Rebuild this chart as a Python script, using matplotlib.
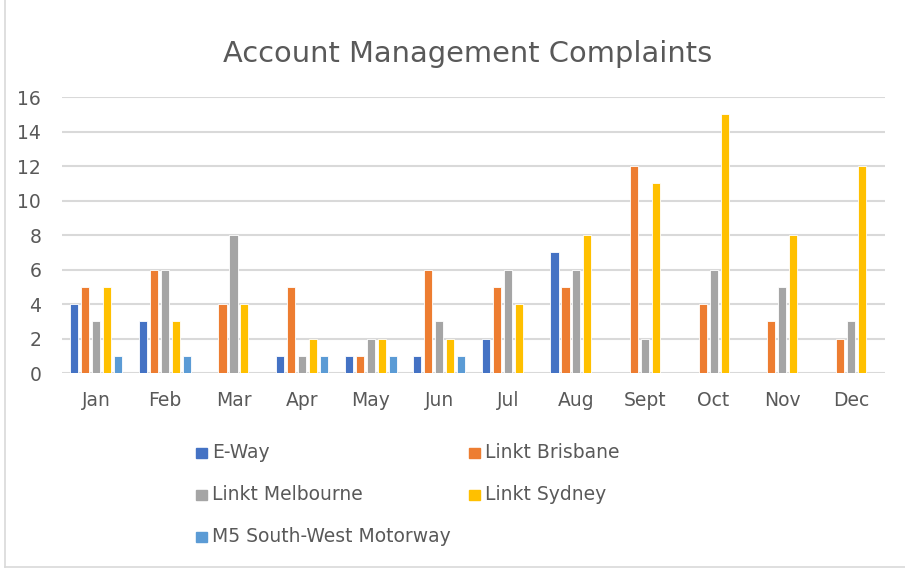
import matplotlib
matplotlib.use("Agg")
import matplotlib.pyplot as plt
from matplotlib.patches import Rectangle
from matplotlib.lines import Line2D
import numpy as np

# chart data
months = ["Jan", "Feb", "Mar", "Apr", "May", "Jun", "Jul", "Aug", "Sept", "Oct", "Nov", "Dec"]
series_names = ["E-Way", "Linkt Brisbane", "Linkt Melbourne", "Linkt Sydney", "M5 South-West Motorway"]
e_way = [4, 3, 0, 1, 1, 1, 2, 7, 0, 0, 0, 0]
linkt_brisbane = [5, 6, 4, 5, 1, 6, 5, 5, 12, 4, 3, 2]
linkt_melbourne = [3, 6, 8, 1, 2, 3, 6, 6, 2, 6, 5, 3]
linkt_sydney = [5, 3, 4, 2, 2, 2, 4, 8, 11, 15, 8, 12]
m5_south_west = [1, 1, 0, 1, 1, 1, 0, 0, 0, 0, 0, 0]
colors = ["#4472C4", "#ED7D31", "#A5A5A5", "#FFC000", "#5B9BD5"]

all_series = [e_way, linkt_brisbane, linkt_melbourne, linkt_sydney, m5_south_west]

fig = plt.figure(figsize=(9.05, 5.7), dpi=100)
ax = fig.add_axes([0.0685, 0.3456, 0.9095, 0.4842])

x = np.arange(len(months))
step = 0.16
width = 0.118
for i, (vals, col) in enumerate(zip(all_series, colors)):
    ax.bar(x + (i - 2) * step, vals, width=width, color=col,
           edgecolor="white", linewidth=0.6, zorder=3)

ax.set_xlim(-0.5, len(months) - 0.5)
ax.set_ylim(0, 16)
ax.set_yticks(range(0, 17, 2))
ax.set_xticks(x)
ax.set_xticklabels(months)
ax.grid(axis="y", color="#D9D9D9", linewidth=1.5, zorder=0)
for s in ax.spines.values():
    s.set_visible(False)
ax.tick_params(length=0, colors="#595959", labelsize=13.5)
ax.tick_params(axis="x", pad=13)
ax.tick_params(axis="y", pad=15)

fig.text(0.517, 0.905, "Account Management Complaints", ha="center", va="center",
         fontsize=20.8, color="#595959")

# legend drawn by hand, Excel style (row-major, 2 columns)
leg_x = [196 / 905, 469 / 905]
leg_y = [453, 495, 537]
for i, (name, col) in enumerate(zip(series_names, colors)):
    cx = leg_x[i % 2]
    cy = 1 - leg_y[i // 2] / 570
    fig.patches.append(Rectangle((cx, cy - 0.0095), 0.0125, 0.019, color=col,
                                 transform=fig.transFigure))
    fig.text(cx + 0.018, cy, name, ha="left", va="center", fontsize=13.5,
             color="#595959")

# chart border (left and bottom visible in the reference)
fig.add_artist(Line2D([0.005, 0.005], [0.006, 1.0], color="#D9D9D9", linewidth=1.2,
                      transform=fig.transFigure))
fig.add_artist(Line2D([0.005, 1.0], [0.006, 0.006], color="#D9D9D9", linewidth=1.2,
                      transform=fig.transFigure))

fig.savefig("out.png", dpi=100)
